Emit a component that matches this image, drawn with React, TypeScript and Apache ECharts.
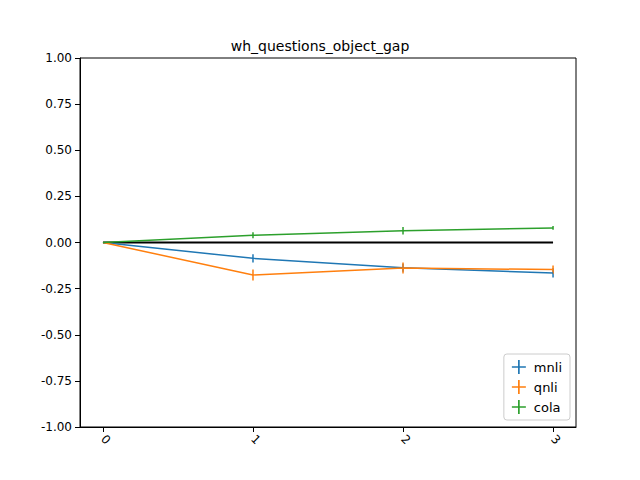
import { useEffect, useRef } from 'react';
import * as echarts from 'echarts';

const steps = [0, 1, 2, 3];
const mnli = [0, -0.086, -0.137, -0.165];
const mnliErr = [0, 0.022, 0.022, 0.025];
const qnli = [0, -0.176, -0.138, -0.147];
const qnliErr = [0, 0.03, 0.03, 0.022];
const cola = [0, 0.039, 0.064, 0.079];
const colaErr = [0, 0.016, 0.02, 0.01];
const yTicks = [-1, -0.75, -0.5, -0.25, 0, 0.25, 0.5, 0.75, 1];

const PLUS = 'path://M0,4.4h10v1.2H0zM4.4,0h1.2v10h-1.2z';

function errSeries(name: string, vals: number[], errs: number[], color: string) {
  return {
    name,
    type: 'custom',
    data: steps.map((s, i) => [s, vals[i] - errs[i], vals[i] + errs[i]]),
    renderItem: (_p: unknown, api: any) => {
      const a = api.coord([api.value(0), api.value(1)]);
      const b = api.coord([api.value(0), api.value(2)]);
      return { type: 'line', shape: { x1: a[0], y1: a[1], x2: b[0], y2: b[1] }, style: { stroke: color, lineWidth: 1.5 } };
    },
    z: 3,
  };
}

function lineSeries(name: string, vals: number[], color: string) {
  return {
    name,
    type: 'line',
    data: steps.map((s, i) => [s, vals[i]]),
    showSymbol: false,
    lineStyle: { color, width: 1.5 },
    itemStyle: { color },
    z: 3,
  };
}

export default function App() {
  const ref = useRef<HTMLDivElement>(null);
  useEffect(() => {
    if (!ref.current) return;
    const chart = echarts.init(ref.current, null, { renderer: 'svg' });
    const axisLine = { show: true, onZero: false, lineStyle: { color: '#000' } };
    chart.setOption({
      animation: false,
      textStyle: { fontFamily: 'DejaVu Sans' },
      title: { text: 'wh_questions_object_gap', left: 'center', top: 34, textStyle: { fontSize: 14, fontWeight: 'normal', color: '#000' } },
      grid: { left: 80, right: 64, top: 58, bottom: 53, show: true, borderColor: '#000', borderWidth: 1 },
      xAxis: {
        type: 'value', min: -0.153, max: 3.153,
        axisLine, splitLine: { show: false },
        axisTick: { show: true, customValues: steps, lineStyle: { color: '#000' } },
        axisLabel: { rotate: -45, color: '#000', fontSize: 12, customValues: steps, margin: 10 },
      },
      yAxis: {
        type: 'value', min: -1, max: 1,
        axisLine, splitLine: { show: false },
        axisTick: { show: true, customValues: yTicks, lineStyle: { color: '#000' } },
        axisLabel: { color: '#000', fontSize: 12, formatter: (v: number) => v.toFixed(2), customValues: yTicks },
      },
      legend: {
        data: [{ name: 'mnli', icon: PLUS }, { name: 'qnli', icon: PLUS }, { name: 'cola', icon: PLUS }],
        orient: 'vertical', right: 70, bottom: 60, itemWidth: 20, itemHeight: 14, itemGap: 6,
        padding: [6, 8], borderColor: '#ccc', borderWidth: 1, borderRadius: 3, backgroundColor: '#fff',
        textStyle: { fontSize: 13, color: '#000' },
      },
      series: [
        { name: 'zero', type: 'line', data: [[0, 0], [3, 0]], showSymbol: false, lineStyle: { color: '#000', width: 2 }, z: 2 },
        lineSeries('mnli', mnli, '#1f77b4'), errSeries('mnli', mnli, mnliErr, '#1f77b4'),
        lineSeries('qnli', qnli, '#ff7f0e'), errSeries('qnli', qnli, qnliErr, '#ff7f0e'),
        lineSeries('cola', cola, '#2ca02c'), errSeries('cola', cola, colaErr, '#2ca02c'),
      ],
    });
    return () => chart.dispose();
  }, []);
  return <div ref={ref} style={{ width: 640, height: 480, margin: -8 }} />;
}
